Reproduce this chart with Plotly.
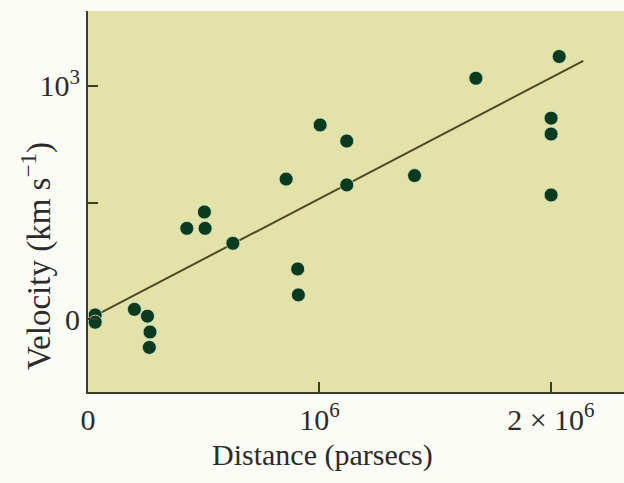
import plotly.graph_objects as go

# Data (distance in parsecs, velocity in km/s)
distance_pc = [0.031e6, 0.031e6, 0.2005e6, 0.257e6, 0.268e6, 0.265e6,
               0.427e6, 0.503e6, 0.506e6, 0.626e6, 0.856e6, 0.906e6, 0.909e6,
               1.003e6, 1.118e6, 1.118e6, 1.411e6, 1.676e6, 2.036e6,
               2.001e6, 2.001e6, 2.001e6]
velocity_kms = [19, -12, 43, 14, -54, -120,
                390, 460, 390, 326, 601, 216, 105,
                833, 764, 576, 616, 1033, 1126,
                862, 794, 533]

fit_distance = [0.05e6, 2.14e6]
fit_velocity = [26, 1107]

x_tickvals = [0, 1e6, 2e6]
x_ticktext = ["0", "10<sup>6</sup>", "2 × 10<sup>6</sup>"]
y_tickvals = [0, 500, 1000]
y_ticktext = ["0", "", "10<sup>3</sup>"]

FONT = "Liberation Serif"
AXIS_COL = "#3d3c2a"
TXT_COL = "#2b2b2b"

fig = go.Figure()
fig.add_trace(go.Scatter(x=fit_distance, y=fit_velocity, mode="lines",
                         line=dict(color="#4b4a25", width=2), hoverinfo="skip"))
fig.add_trace(go.Scatter(x=distance_pc, y=velocity_kms, mode="markers",
                         marker=dict(size=14, color="#0c3a1e",
                                     line=dict(width=1, color="rgba(215,235,205,0.8)"))))

fig.update_layout(
    width=624, height=483,
    margin=dict(l=88, r=0, t=11, b=91, autoexpand=False),
    paper_bgcolor="#fcfcf6",
    plot_bgcolor="#e3e2a9",
    showlegend=False,
    font=dict(family=FONT, size=30, color=TXT_COL),
    xaxis=dict(range=[0, 2.316e6], showgrid=False, zeroline=False, automargin=False,
               showline=True, linecolor=AXIS_COL, linewidth=2,
               ticks="inside", ticklen=10, tickwidth=2, tickcolor=AXIS_COL,
               tickvals=x_tickvals, ticktext=x_ticktext,
               tickfont=dict(family=FONT, size=30, color=TXT_COL),
               ticklabelstandoff=0),
    yaxis=dict(range=[-311, 1321], showgrid=False, zeroline=False, automargin=False,
               showline=True, linecolor=AXIS_COL, linewidth=2,
               ticks="inside", ticklen=10, tickwidth=2, tickcolor=AXIS_COL,
               tickvals=y_tickvals, ticktext=y_ticktext,
               tickfont=dict(family=FONT, size=30, color=TXT_COL),
               ticklabelstandoff=0),
    annotations=[
        dict(text="Distance (parsecs)", xref="paper", yref="paper",
             x=0.437, y=-0.165, xanchor="center", yanchor="middle",
             showarrow=False, font=dict(family=FONT, size=30, color=TXT_COL)),
        dict(text="Velocity (km s<sup>−1</sup>)", xref="paper", yref="paper",
             x=-0.095, y=0.357, xanchor="center", yanchor="middle", textangle=-90,
             showarrow=False, font=dict(family=FONT, size=33, color=TXT_COL)),
    ],
)

fig.write_html("out.html",
               config={"displayModeBar": False},
               post_script="document.body.style.margin='0';document.body.style.overflow='hidden';")
